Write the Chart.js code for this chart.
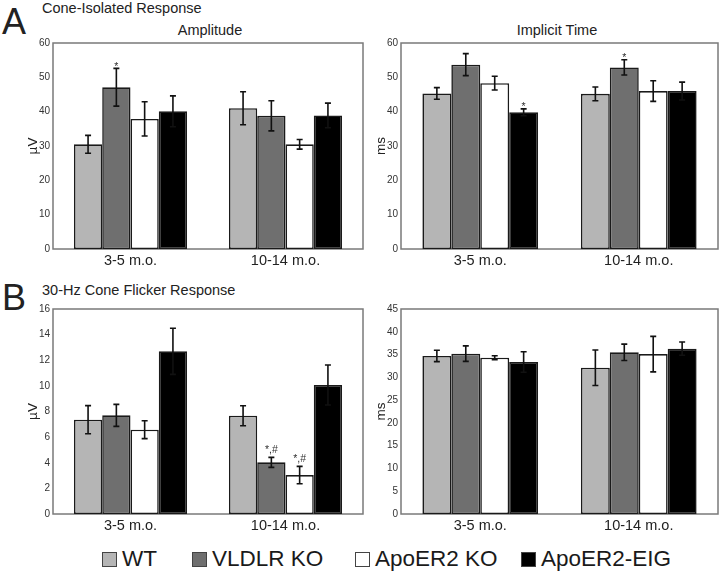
<!DOCTYPE html>
<html>
<head>
<meta charset="utf-8">
<script src="https://cdn.jsdelivr.net/npm/chart.js@4/dist/chart.umd.min.js"></script>
<style>
  body { margin: 0; background: #fff; }
  #page { position: relative; width: 720px; height: 574px; overflow: hidden; font-family: "Liberation Sans", Arial, sans-serif; color: #222; }
  .txt { position: absolute; white-space: nowrap; line-height: 1; }
  canvas { position: absolute; }
  .leg { position: absolute; top: 548px; font-size: 22.5px; line-height: 1; white-space: nowrap; color: #1a1a1a; }
  .leg i { display: inline-block; width: 13px; height: 13px; border: 1px solid #444; margin-right: 5px; vertical-align: -1px; }
</style>
</head>
<body>
<div id="page">
  <div class="txt" style="left:2px; top:3.5px; font-size:36px;">A</div>
  <div class="txt" style="left:42px; top:0.7px; font-size:14.5px;">Cone-Isolated Response</div>
  <div class="txt" style="left:110px; width:200px; text-align:center; top:23px; font-size:14.5px;">Amplitude</div>
  <div class="txt" style="left:457px; width:200px; text-align:center; top:23px; font-size:14.5px;">Implicit Time</div>
  <div class="txt" style="left:2px; top:280px; font-size:36px;">B</div>
  <div class="txt" style="left:42px; top:283px; font-size:14.5px;">30-Hz Cone Flicker Response</div>

  <canvas id="ampA" width="365" height="241" style="left:0; top:30px;"></canvas>
  <canvas id="timeA" width="360" height="241" style="left:360px; top:30px;"></canvas>
  <canvas id="ampB" width="365" height="240" style="left:0; top:296px;"></canvas>
  <canvas id="timeB" width="360" height="240" style="left:360px; top:296px;"></canvas>

  <div id="legend"></div>
</div>

<script>
const categories = ["3-5 m.o.", "10-14 m.o."];
const seriesNames = ["WT", "VLDLR KO", "ApoER2 KO", "ApoER2-EIG"];
const seriesColors = ["#b5b5b5", "#6f6f6f", "#ffffff", "#000000"];
const legendLeft = [102, 192, 355, 521];

// cone-isolated amplitude (µV), one row per series
const coneAmpMean = [[30.5, 41.0], [47.1, 38.8], [37.9, 30.5], [40.1, 38.9]];
const coneAmpErr = [[2.6, 4.8], [5.5, 4.4], [5.0, 1.4], [4.5, 3.6]];
const coneAmpMarks = [["", ""], ["*", ""], ["", ""], ["", ""]];

// cone-isolated implicit time (ms)
const coneTimeMean = [[45.3, 45.2], [53.7, 52.9], [48.3, 46.0], [39.8, 46.0]];
const coneTimeErr = [[1.7, 2.0], [3.2, 2.2], [2.0, 3.0], [1.0, 2.6]];
const coneTimeMarks = [["", ""], ["", "*"], ["", ""], ["*", ""]];

// 30-Hz flicker amplitude (µV)
const flickAmpMean = [[7.36, 7.67], [7.70, 4.03], [6.58, 3.04], [12.7, 10.07]];
const flickAmpErr = [[1.1, 0.78], [0.86, 0.39], [0.7, 0.68], [1.8, 1.56]];
const flickAmpMarks = [["", ""], ["", "*,#"], ["", "*,#"], ["", ""]];

// 30-Hz flicker implicit time (ms)
const flickTimeMean = [[34.7, 32.1], [35.2, 35.5], [34.3, 35.1], [33.36, 36.3]];
const flickTimeErr = [[1.25, 3.9], [1.7, 1.8], [0.45, 3.9], [2.26, 1.45]];
const flickTimeMarks = [["", ""], ["", ""], ["", ""], ["", ""]];

const FONT = "'Liberation Sans', Arial, sans-serif";

// grey box round the plot area
const framePlugin = {
  id: "frame",
  beforeDatasetsDraw(chart) {
    const a = chart.chartArea, ctx = chart.ctx;
    ctx.save();
    ctx.strokeStyle = "#7a7a7a";
    ctx.lineWidth = 1.5;
    ctx.strokeRect(a.left, a.top, a.right - a.left, a.bottom - a.top);
    ctx.restore();
  }
};

// error bars and significance marks
const errorPlugin = {
  id: "errors",
  afterDatasetsDraw(chart) {
    const ctx = chart.ctx, y = chart.scales.y;
    ctx.save();
    chart.data.datasets.forEach((ds, i) => {
      const meta = chart.getDatasetMeta(i);
      meta.data.forEach((bar, j) => {
        const v = ds.data[j], e = ds.err[j];
        const yTop = y.getPixelForValue(v + e);
        const yBot = y.getPixelForValue(v - e);
        const x = bar.x;
        ctx.strokeStyle = "#111";
        ctx.lineWidth = 1.6;
        ctx.beginPath();
        ctx.moveTo(x, yTop); ctx.lineTo(x, yBot);
        ctx.moveTo(x - 3, yTop); ctx.lineTo(x + 3, yTop);
        ctx.moveTo(x - 3, yBot); ctx.lineTo(x + 3, yBot);
        ctx.stroke();
        const mark = ds.marks[j];
        if (mark) {
          ctx.font = "10.5px " + FONT;
          ctx.fillStyle = "#333";
          ctx.textAlign = "center";
          ctx.textBaseline = "alphabetic";
          const m = ctx.measureText(mark);
          ctx.fillText(mark, x, yTop - 2.5 - m.actualBoundingBoxDescent);
        }
      });
    });
    ctx.restore();
  }
};

function makeChart(id, means, errs, marks, yMax, step, unit, axisWidth, titlePad) {
  const datasets = seriesNames.map((name, i) => ({
    label: name,
    data: means[i],
    err: errs[i],
    marks: marks[i],
    backgroundColor: seriesColors[i],
    borderColor: "#1a1a1a",
    borderWidth: 1.6,
    borderSkipped: false,
    categoryPercentage: 0.73,
    barPercentage: 1.0
  }));
  return new Chart(document.getElementById(id), {
    type: "bar",
    data: { labels: categories, datasets: datasets },
    options: {
      responsive: false,
      animation: false,
      layout: { padding: { top: 13, right: 2, left: 0, bottom: 0 } },
      plugins: { legend: { display: false }, tooltip: { enabled: false } },
      scales: {
        x: {
          grid: { display: false, drawTicks: false },
          border: { display: false },
          ticks: { color: "#222", font: { family: FONT, size: 14.5 }, padding: 3 },
          afterFit: s => { s.height = 22; }
        },
        y: {
          min: 0,
          max: yMax,
          grid: { display: false, drawTicks: false },
          border: { display: false },
          ticks: { stepSize: step, color: "#333", font: { family: FONT, size: 10 }, padding: 3 },
          title: { display: true, text: unit, color: "#222", font: { family: FONT, size: 13.5 }, padding: { top: titlePad, bottom: 0 } },
          afterFit: s => { s.width = axisWidth; }
        }
      }
    },
    plugins: [framePlugin, errorPlugin]
  });
}

makeChart("ampA", coneAmpMean, coneAmpErr, coneAmpMarks, 60, 10, "µV", 53, 25);
makeChart("timeA", coneTimeMean, coneTimeErr, coneTimeMarks, 60, 10, "ms", 41, 13);
makeChart("ampB", flickAmpMean, flickAmpErr, flickAmpMarks, 16, 2, "µV", 53, 25);
makeChart("timeB", flickTimeMean, flickTimeErr, flickTimeMarks, 45, 5, "ms", 41, 13);

// legend row under the panels
const legend = document.getElementById("legend");
seriesNames.forEach((name, i) => {
  const item = document.createElement("div");
  item.className = "leg";
  item.style.left = legendLeft[i] + "px";
  item.innerHTML = `<i style="background:${seriesColors[i]}"></i>${name}`;
  legend.appendChild(item);
});
</script>
</body>
</html>
